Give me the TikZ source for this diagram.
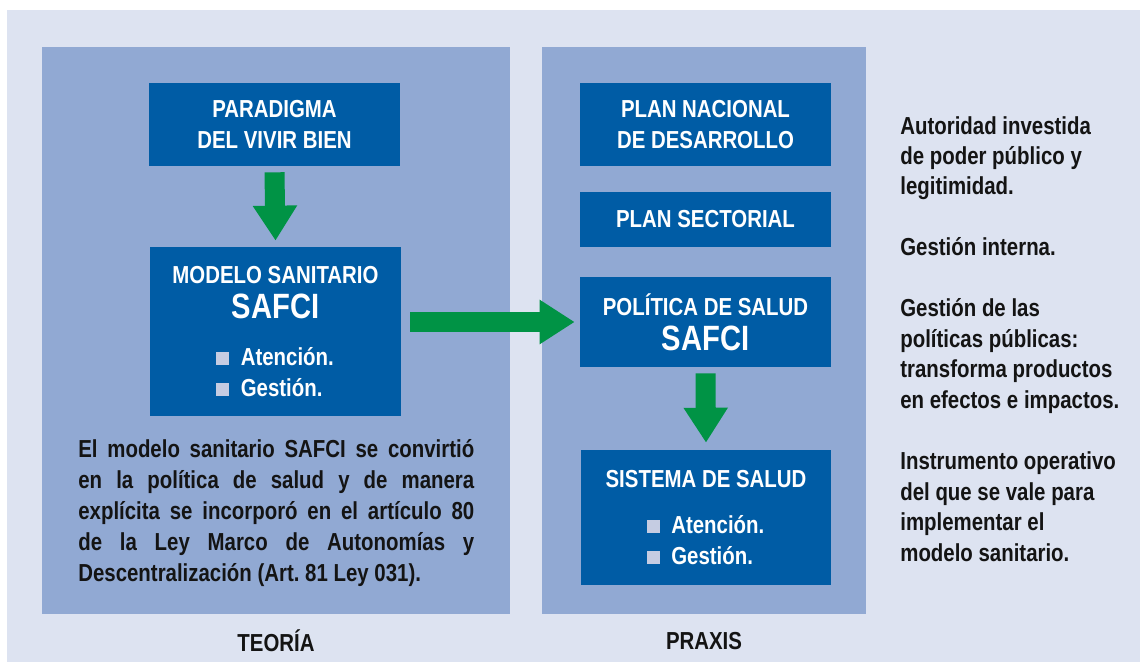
\documentclass[tikz,border=0pt]{standalone}
\usepackage{fontspec}
\setmainfont[FakeStretch=0.83]{Liberation Sans}
\usetikzlibrary{arrows.meta}
\usetikzlibrary{positioning}
\definecolor{mback}{RGB}{221,227,241}
\definecolor{mpanel}{RGB}{145,169,211}
\definecolor{mblue}{RGB}{0,92,165}
\definecolor{mgreen}{RGB}{0,147,69}
\definecolor{mbullet}{RGB}{197,204,226}
\definecolor{mtext}{RGB}{20,20,20}
\tikzset{panel/.style = {fill=mpanel, inner sep=0, minimum height=11.34cm}}
\tikzset{blk/.style = {fill=mblue, text=white, align=center, inner sep=0,
                       minimum width=5.02cm,
                       font=\bfseries\fontsize{14}{17.6}\selectfont}}
\tikzset{note/.style = {text=mtext, align=left, anchor=base west, inner sep=0,
                        font=\bfseries\fontsize{14}{17.3}\selectfont}}
\tikzset{bigarrow/.style = {draw=mgreen, line width=0.4cm,
                            -{Triangle[length=0.7cm, width=0.84cm]}}}
\newcommand{\sq}{\textcolor{mbullet}{\rule{7.5pt}{7.5pt}}\hspace{6.5pt}}
\newcommand{\safci}{{\fontsize{20}{22}\selectfont SAFCI}}
\newcommand{\bul}[1]{\makebox[67.5pt][l]{\sq #1}}

\begin{document}
\begin{tikzpicture}[x=0.02cm, y=-0.02cm]
    \useasboundingbox (0,0) rectangle (1140,662);
    \fill [mback] (7,10) rectangle (1140,662);
    % panels
    \node [panel, minimum width=9.36cm] (teoria) at (276,330.5) {};
    \node [panel, minimum width=6.48cm] (praxis) at (704,330.5) {};
    \node [text=mtext, font=\bfseries\fontsize{14}{17}\selectfont] (teorialbl)
      at (276,641) {TEORÍA};
    \node [text=mtext, font=\bfseries\fontsize{14}{17}\selectfont] (praxislbl)
      at (704,641) {PRAXIS};
    % teoria
    \node [blk, minimum height=1.66cm] (paradigma) at (274.5,124.5)
      {PARADIGMA\\DEL VIVIR BIEN};
    \node [blk, minimum height=3.38cm] (modelo) at (275.5,331.5)
      {MODELO SANITARIO\\[2.4pt]\safci\\[8.8pt]\bul{Atención.}\\\bul{Gestión.}};
    \node [note, align=justify, text width=7.92cm, font=\bfseries\fontsize{14}{17.6}\selectfont]
      (texto) at (78,458)
      {\hyphenpenalty=10000
       El modelo sanitario SAFCI se convirtió\linebreak
       en la política de salud y de manera\linebreak
       explícita se incorporó en el artículo 80\linebreak
       de la Ley Marco de Autonomías y\linebreak
       Descentralización (Art.~81 Ley 031).};
    % praxis
    \node [blk, minimum height=1.66cm] (plannac) at (705.5,124.5)
      {PLAN NACIONAL\\DE DESARROLLO};
    \node [blk, minimum height=1.1cm] (plansec) at (705.5,219.5) {PLAN SECTORIAL};
    \node [blk, minimum height=1.8cm] (politica) at (705.5,322)
      {POLÍTICA DE SALUD\\[2.4pt]\safci};
    \node [blk, minimum height=2.7cm] (sistema) at (706,517.5)
      {SISTEMA DE SALUD\\[8.4pt]\bul{Atención.}\\\bul{Gestión.}};
    % notas (base = ultima linea)
    \node [note] (autoridad) at (900,195)
      {Autoridad investida\\de poder público y\\legitimidad.};
    \node [note] (interna) at (900,256) {Gestión interna.};
    \node [note] (gestion) at (900,408)
      {Gestión de las\\políticas públicas:\\transforma productos\\en efectos e impactos.};
    \node [note] (instrumento) at (900,561)
      {Instrumento operativo\\del que se vale para\\implementar el\\modelo sanitario.};
    % flechas
    \draw [bigarrow] ([yshift=-0.12cm]paradigma.south) -- ([yshift=0.12cm]modelo.north);
    \draw [bigarrow] ([xshift=0.18cm]modelo.east |- politica.west)
      -- ([xshift=-0.1cm]politica.west);
    \draw [bigarrow] ([yshift=-0.12cm]politica.south) -- ([yshift=0.14cm]sistema.north);
  \end{tikzpicture}
\end{document}
